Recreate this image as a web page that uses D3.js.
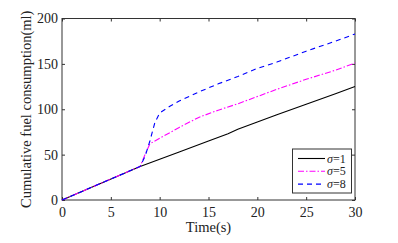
<!DOCTYPE html>
<html>
<head>
<meta charset="utf-8">
<script src="https://cdn.jsdelivr.net/npm/d3@7"></script>
<style>
  body { margin: 0; background: #fff; }
  text { font-family: "Liberation Serif", "Times New Roman", serif; fill: #222; }
</style>
</head>
<body>
<script>
// values
var time1 = [0, 8, 10, 12, 15, 17, 18, 20, 22, 25, 28, 30];
var fuel1 = [0, 37, 45, 53, 65, 73, 78, 86, 94, 105.5, 117, 125];

var time5 = [0, 8, 8.5, 9, 10, 12, 14, 16, 18, 20, 22, 25, 28, 30];
var fuel5 = [0, 37, 50, 62, 68, 80, 91, 99, 106, 114, 122, 133, 143, 151];

var time8 = [0, 8, 8.5, 9, 9.5, 10, 11, 12, 14, 16, 18, 20, 22, 25, 28, 30];
var fuel8 = [0, 37, 48, 65, 85, 96, 103, 109, 119, 128, 136, 145, 152, 164, 175, 183];

var seriesNames = ["\u03c3=1", "\u03c3=5", "\u03c3=8"];
var xTicks = [0, 5, 10, 15, 20, 25, 30];
var yTicks = [0, 50, 100, 150, 200];

var margin = {top: 18.5, right: 43, bottom: 43, left: 62}
, width = 398 - margin.left - margin.right
, height = 243 - margin.top - margin.bottom;

var x = d3.scaleLinear().domain([0, 30]).range([0, width]);
var y = d3.scaleLinear().domain([0, 200]).range([height, 0]);

var svg = d3.select('body').append('svg')
    .attr('width', 398)
    .attr('height', 243);

var main = svg.append('g')
    .attr('transform', 'translate(' + margin.left + ',' + margin.top + ')');

// axes, ticks inward like matlab
function styleAxis(g) {
  g.select('.domain').remove();
  g.selectAll('line').attr('stroke', '#333');
  g.selectAll('text').style('font-size', '14px');
}

main.append('g')
    .attr('transform', 'translate(0,' + height + ')')
    .call(d3.axisBottom(x).tickValues(xTicks).tickSize(-3).tickPadding(7))
    .call(styleAxis)
    .selectAll('text').attr('dy', '0.71em');

main.append('g')
    .call(d3.axisLeft(y).tickValues(yTicks).tickSize(-3).tickPadding(4))
    .call(styleAxis);

main.append('g')
    .call(d3.axisTop(x).tickValues(xTicks).tickSize(-3).tickFormat(''))
    .call(styleAxis);

main.append('g')
    .attr('transform', 'translate(' + width + ',0)')
    .call(d3.axisRight(y).tickValues(yTicks).tickSize(-3).tickFormat(''))
    .call(styleAxis);

main.append('rect')
    .attr('width', width)
    .attr('height', height)
    .attr('fill', 'none')
    .attr('stroke', '#333')
    .attr('stroke-width', 1);

// lines
var series = [
  {t: time1, v: fuel1, color: '#000', dash: null},
  {t: time5, v: fuel5, color: '#ff00ff', dash: '6,2,1.5,2'},
  {t: time8, v: fuel8, color: '#0000ff', dash: '5,4'}
];

var line = d3.line()
    .x(function (d) { return x(d[0]); })
    .y(function (d) { return y(d[1]); });

series.forEach(function (s) {
  main.append('path')
      .datum(d3.zip(s.t, s.v))
      .attr('d', line)
      .attr('fill', 'none')
      .attr('stroke', s.color)
      .attr('stroke-width', 1.1)
      .attr('stroke-dasharray', s.dash);
});

// axis labels
svg.append('text')
    .attr('x', margin.left + width / 2)
    .attr('y', 232)
    .attr('text-anchor', 'middle')
    .style('font-size', '14.5px')
    .text('Time(s)');

svg.append('text')
    .attr('transform', 'translate(31,' + (margin.top + height / 2) + ') rotate(-90)')
    .attr('text-anchor', 'middle')
    .style('font-size', '14.5px')
    .text('Cumulative fuel consumption(ml)');

// legend
var legend = svg.append('g').attr('transform', 'translate(292.5,149)');
legend.append('rect')
    .attr('width', 59)
    .attr('height', 44)
    .attr('fill', '#fff')
    .attr('stroke', '#333');

series.forEach(function (s, i) {
  var ly = 9.5 + i * 12.8;
  legend.append('line')
      .attr('x1', 5.5).attr('x2', 32.5)
      .attr('y1', ly).attr('y2', ly)
      .attr('stroke', s.color)
      .attr('stroke-width', 1.1)
      .attr('stroke-dasharray', s.dash);
  var t = legend.append('text')
      .attr('x', 34.5)
      .attr('y', ly + 4)
      .style('font-size', '12px');
  t.append('tspan').style('font-style', 'italic').text('\u03c3');
  t.append('tspan').text(seriesNames[i].slice(1));
});
</script>
</body>
</html>
